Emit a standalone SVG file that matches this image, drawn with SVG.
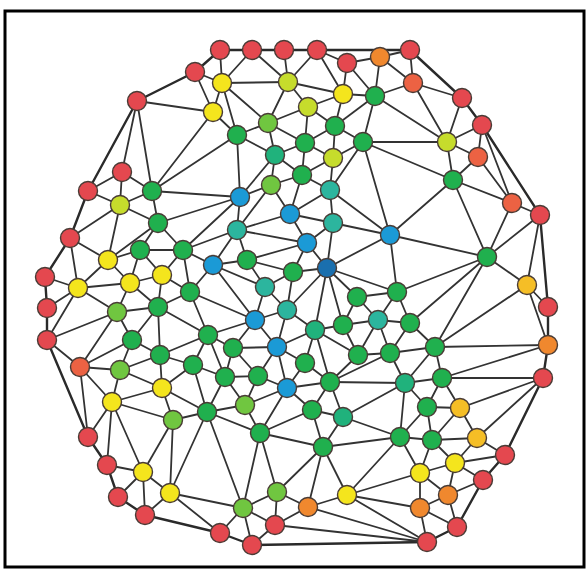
<svg xmlns="http://www.w3.org/2000/svg" width="588" height="572" viewBox="0 0 588 572">
<style>
.e path{stroke:#333;stroke-width:1.8;fill:none;stroke-linecap:round}
.hull{stroke:#2a2a2a;stroke-width:2.4;fill:none;stroke-linejoin:round}
circle{stroke:#4a3c36;stroke-width:1.4}
.r{fill:#e4484f}.or{fill:#ec6243}.o{fill:#f0882e}.yo{fill:#f5be26}.y{fill:#f4e51d}
.yg{fill:#c6dc2c}.lg{fill:#70c640}.g{fill:#20b04e}.tg{fill:#20b27c}.t{fill:#2cb59e}
.b{fill:#1b9ad6}.db{fill:#1a6fae}
</style>
<rect width="588" height="572" fill="#fff"/>
<rect x="5" y="11" width="579" height="556" fill="none" stroke="#000" stroke-width="3"/>
<g id="connectors" class="e">
<polygon class="hull" points="220,50 252,50 284,50 317,50 410,50 462,98 482,125 540,215 548,307 548,345 543,378 505,455 483,480 457,527 427,542 252,545 220,533 145,515 118,497 107,465 88,437 47,340 47,308 45,277 70,238 88,191 137,101 195,72"/>
<path d="M317 50L347 63"/><path d="M347 63L380 57"/><path d="M380 57L410 50"/>
<path d="M220 50L222 83"/><path d="M252 50L222 83"/><path d="M252 50L288 82"/><path d="M284 50L288 82"/><path d="M317 50L288 82"/><path d="M317 50L343 94"/><path d="M347 63L343 94"/><path d="M347 63L375 96"/><path d="M380 57L375 96"/><path d="M380 57L413 83"/><path d="M410 50L413 83"/><path d="M413 83L375 96"/><path d="M413 83L462 98"/><path d="M413 83L447 142"/><path d="M462 98L447 142"/><path d="M482 125L447 142"/><path d="M482 125L478 157"/><path d="M482 125L512 203"/><path d="M478 157L447 142"/><path d="M478 157L453 180"/><path d="M478 157L512 203"/><path d="M512 203L540 215"/><path d="M512 203L453 180"/><path d="M512 203L487 257"/><path d="M540 215L487 257"/><path d="M540 215L527 285"/><path d="M527 285L548 307"/><path d="M527 285L548 345"/><path d="M527 285L487 257"/><path d="M527 285L435 347"/><path d="M548 345L435 347"/><path d="M548 345L442 378"/><path d="M543 378L442 378"/><path d="M543 378L460 408"/><path d="M543 378L477 438"/>
<path d="M222 83L195 72"/><path d="M222 83L213 112"/><path d="M222 83L288 82"/><path d="M222 83L268 123"/><path d="M222 83L237 135"/><path d="M195 72L213 112"/><path d="M137 101L213 112"/><path d="M137 101L122 172"/><path d="M137 101L152 191"/><path d="M88 191L122 172"/><path d="M122 172L120 205"/><path d="M122 172L152 191"/><path d="M88 191L120 205"/><path d="M70 238L120 205"/><path d="M70 238L108 260"/><path d="M70 238L78 288"/><path d="M45 277L78 288"/><path d="M47 308L78 288"/><path d="M47 340L78 288"/><path d="M47 340L117 312"/><path d="M47 340L80 367"/><path d="M88 437L80 367"/><path d="M88 437L112 402"/>
<path d="M288 82L308 107"/><path d="M288 82L268 123"/><path d="M288 82L343 94"/><path d="M343 94L308 107"/><path d="M343 94L335 126"/><path d="M343 94L375 96"/><path d="M375 96L335 126"/><path d="M375 96L363 142"/><path d="M375 96L447 142"/><path d="M308 107L268 123"/><path d="M308 107L335 126"/><path d="M308 107L305 143"/><path d="M268 123L305 143"/><path d="M268 123L275 155"/><path d="M268 123L237 135"/><path d="M237 135L275 155"/><path d="M237 135L240 197"/><path d="M237 135L213 112"/><path d="M237 135L152 191"/><path d="M213 112L152 191"/><path d="M335 126L305 143"/><path d="M335 126L333 158"/><path d="M335 126L363 142"/><path d="M363 142L333 158"/><path d="M363 142L330 190"/><path d="M363 142L447 142"/><path d="M363 142L453 180"/><path d="M363 142L390 235"/><path d="M305 143L275 155"/><path d="M305 143L333 158"/><path d="M305 143L302 175"/><path d="M275 155L302 175"/><path d="M275 155L271 185"/><path d="M275 155L240 197"/><path d="M333 158L302 175"/><path d="M333 158L330 190"/><path d="M302 175L271 185"/><path d="M302 175L330 190"/><path d="M302 175L290 214"/><path d="M271 185L240 197"/><path d="M271 185L290 214"/><path d="M271 185L237 230"/><path d="M330 190L290 214"/><path d="M330 190L333 223"/><path d="M330 190L390 235"/><path d="M240 197L237 230"/><path d="M240 197L152 191"/><path d="M240 197L158 223"/><path d="M240 197L183 250"/><path d="M290 214L333 223"/><path d="M290 214L237 230"/><path d="M290 214L307 243"/><path d="M333 223L307 243"/><path d="M333 223L327 268"/><path d="M333 223L390 235"/><path d="M237 230L213 265"/><path d="M237 230L183 250"/><path d="M237 230L247 260"/><path d="M237 230L307 243"/><path d="M390 235L327 268"/><path d="M390 235L397 292"/><path d="M390 235L453 180"/><path d="M390 235L487 257"/><path d="M307 243L247 260"/><path d="M307 243L327 268"/><path d="M307 243L293 272"/><path d="M247 260L293 272"/><path d="M247 260L213 265"/><path d="M247 260L265 287"/><path d="M327 268L293 272"/><path d="M327 268L357 297"/><path d="M327 268L397 292"/><path d="M327 268L287 310"/><path d="M327 268L315 330"/><path d="M327 268L343 325"/><path d="M293 272L265 287"/><path d="M293 272L287 310"/><path d="M265 287L287 310"/><path d="M265 287L255 320"/><path d="M265 287L213 265"/><path d="M213 265L255 320"/><path d="M213 265L190 292"/><path d="M213 265L183 250"/><path d="M447 142L453 180"/><path d="M453 180L487 257"/>
<path d="M287 310L255 320"/><path d="M287 310L315 330"/><path d="M287 310L277 347"/><path d="M255 320L277 347"/><path d="M255 320L233 348"/><path d="M255 320L208 335"/><path d="M255 320L190 292"/><path d="M315 330L277 347"/><path d="M315 330L305 363"/><path d="M315 330L343 325"/><path d="M315 330L330 382"/><path d="M315 330L358 355"/><path d="M343 325L357 297"/><path d="M343 325L378 320"/><path d="M343 325L358 355"/><path d="M357 297L378 320"/><path d="M357 297L397 292"/><path d="M397 292L378 320"/><path d="M397 292L410 323"/><path d="M397 292L487 257"/><path d="M378 320L410 323"/><path d="M378 320L358 355"/><path d="M378 320L390 353"/><path d="M410 323L390 353"/><path d="M410 323L435 347"/><path d="M410 323L487 257"/><path d="M435 347L487 257"/><path d="M358 355L390 353"/><path d="M358 355L330 382"/><path d="M390 353L435 347"/><path d="M390 353L405 383"/><path d="M390 353L330 382"/><path d="M435 347L405 383"/><path d="M435 347L442 378"/><path d="M405 383L442 378"/><path d="M405 383L330 382"/><path d="M405 383L343 417"/><path d="M405 383L400 437"/><path d="M405 383L427 407"/><path d="M442 378L427 407"/><path d="M442 378L460 408"/>
<path d="M330 382L305 363"/><path d="M330 382L287 388"/><path d="M330 382L312 410"/><path d="M330 382L343 417"/><path d="M305 363L277 347"/><path d="M305 363L287 388"/><path d="M277 347L233 348"/><path d="M277 347L258 376"/><path d="M277 347L287 388"/><path d="M233 348L208 335"/><path d="M233 348L225 377"/><path d="M233 348L258 376"/><path d="M225 377L258 376"/><path d="M225 377L193 365"/><path d="M225 377L208 335"/><path d="M225 377L245 405"/><path d="M225 377L207 412"/><path d="M258 376L287 388"/><path d="M258 376L245 405"/><path d="M287 388L245 405"/><path d="M287 388L260 433"/><path d="M287 388L312 410"/><path d="M245 405L260 433"/><path d="M245 405L207 412"/><path d="M312 410L260 433"/><path d="M312 410L343 417"/><path d="M312 410L323 447"/><path d="M343 417L323 447"/><path d="M343 417L400 437"/><path d="M260 433L323 447"/><path d="M260 433L243 508"/><path d="M260 433L277 492"/><path d="M260 433L207 412"/><path d="M323 447L277 492"/><path d="M323 447L308 507"/><path d="M323 447L347 495"/><path d="M323 447L400 437"/>
<path d="M207 412L193 365"/><path d="M207 412L162 388"/><path d="M207 412L173 420"/><path d="M207 412L170 493"/><path d="M207 412L243 508"/><path d="M162 388L112 402"/><path d="M162 388L120 370"/><path d="M162 388L160 355"/><path d="M162 388L193 365"/><path d="M162 388L173 420"/><path d="M173 420L112 402"/><path d="M173 420L143 472"/><path d="M173 420L170 493"/><path d="M112 402L143 472"/><path d="M112 402L107 465"/><path d="M112 402L80 367"/><path d="M112 402L120 370"/><path d="M143 472L107 465"/><path d="M143 472L118 497"/><path d="M143 472L145 515"/><path d="M143 472L170 493"/><path d="M170 493L145 515"/><path d="M170 493L220 533"/><path d="M170 493L243 508"/><path d="M220 533L243 508"/><path d="M252 545L243 508"/><path d="M275 525L243 508"/><path d="M275 525L277 492"/><path d="M243 508L277 492"/><path d="M308 507L277 492"/><path d="M308 507L275 525"/><path d="M347 495L308 507"/><path d="M400 437L347 495"/><path d="M420 473L347 495"/><path d="M420 508L347 495"/><path d="M427 542L347 495"/><path d="M427 542L308 507"/><path d="M427 542L275 525"/><path d="M427 542L420 508"/><path d="M275 525L252 545"/>
<path d="M427 407L460 408"/><path d="M427 407L432 440"/><path d="M427 407L400 437"/><path d="M432 440L460 408"/><path d="M432 440L477 438"/><path d="M432 440L455 463"/><path d="M432 440L420 473"/><path d="M432 440L400 437"/><path d="M460 408L477 438"/><path d="M477 438L455 463"/><path d="M477 438L505 455"/><path d="M455 463L505 455"/><path d="M455 463L483 480"/><path d="M455 463L448 495"/><path d="M455 463L420 473"/><path d="M448 495L483 480"/><path d="M448 495L457 527"/><path d="M448 495L420 508"/><path d="M448 495L420 473"/><path d="M420 508L457 527"/><path d="M420 508L420 473"/><path d="M400 437L420 473"/>
<path d="M80 367L120 370"/><path d="M80 367L117 312"/><path d="M80 367L132 340"/><path d="M117 312L78 288"/><path d="M117 312L130 283"/><path d="M117 312L158 307"/><path d="M117 312L132 340"/><path d="M132 340L120 370"/><path d="M132 340L160 355"/><path d="M132 340L158 307"/><path d="M160 355L120 370"/><path d="M160 355L158 307"/><path d="M160 355L208 335"/><path d="M160 355L193 365"/><path d="M193 365L208 335"/><path d="M208 335L190 292"/><path d="M208 335L158 307"/><path d="M158 307L130 283"/><path d="M158 307L162 275"/><path d="M158 307L190 292"/><path d="M130 283L78 288"/><path d="M130 283L108 260"/><path d="M130 283L140 250"/><path d="M130 283L162 275"/><path d="M162 275L140 250"/><path d="M162 275L183 250"/><path d="M162 275L190 292"/><path d="M140 250L108 260"/><path d="M140 250L158 223"/><path d="M140 250L183 250"/><path d="M183 250L158 223"/><path d="M183 250L190 292"/><path d="M108 260L78 288"/><path d="M108 260L120 205"/><path d="M108 260L158 223"/><path d="M120 205L158 223"/><path d="M120 205L152 191"/><path d="M152 191L158 223"/>
</g>
<g id="nodes">
<g id="n1"><circle class="r" cx="220" cy="50" r="9.5"/></g>
<g id="n2"><circle class="r" cx="252" cy="50" r="9.5"/></g>
<g id="n3"><circle class="r" cx="284" cy="50" r="9.5"/></g>
<g id="n4"><circle class="r" cx="317" cy="50" r="9.5"/></g>
<g id="n5"><circle class="r" cx="347" cy="63" r="9.5"/></g>
<g id="n6"><circle class="o" cx="380" cy="57" r="9.5"/></g>
<g id="n7"><circle class="r" cx="410" cy="50" r="9.5"/></g>
<g id="n8"><circle class="or" cx="413" cy="83" r="9.5"/></g>
<g id="n9"><circle class="r" cx="462" cy="98" r="9.5"/></g>
<g id="n10"><circle class="r" cx="482" cy="125" r="9.5"/></g>
<g id="n11"><circle class="or" cx="478" cy="157" r="9.5"/></g>
<g id="n12"><circle class="or" cx="512" cy="203" r="9.5"/></g>
<g id="n13"><circle class="r" cx="540" cy="215" r="9.5"/></g>
<g id="n14"><circle class="yo" cx="527" cy="285" r="9.5"/></g>
<g id="n15"><circle class="r" cx="548" cy="307" r="9.5"/></g>
<g id="n16"><circle class="o" cx="548" cy="345" r="9.5"/></g>
<g id="n17"><circle class="r" cx="543" cy="378" r="9.5"/></g>
<g id="n18"><circle class="r" cx="505" cy="455" r="9.5"/></g>
<g id="n19"><circle class="r" cx="483" cy="480" r="9.5"/></g>
<g id="n20"><circle class="r" cx="457" cy="527" r="9.5"/></g>
<g id="n21"><circle class="r" cx="427" cy="542" r="9.5"/></g>
<g id="n22"><circle class="o" cx="420" cy="508" r="9.5"/></g>
<g id="n23"><circle class="o" cx="448" cy="495" r="9.5"/></g>
<g id="n24"><circle class="y" cx="455" cy="463" r="9.5"/></g>
<g id="n25"><circle class="y" cx="420" cy="473" r="9.5"/></g>
<g id="n26"><circle class="yo" cx="477" cy="438" r="9.5"/></g>
<g id="n27"><circle class="yo" cx="460" cy="408" r="9.5"/></g>
<g id="n28"><circle class="g" cx="427" cy="407" r="9.5"/></g>
<g id="n29"><circle class="g" cx="432" cy="440" r="9.5"/></g>
<g id="n30"><circle class="g" cx="400" cy="437" r="9.5"/></g>
<g id="n31"><circle class="y" cx="347" cy="495" r="9.5"/></g>
<g id="n32"><circle class="o" cx="308" cy="507" r="9.5"/></g>
<g id="n33"><circle class="r" cx="275" cy="525" r="9.5"/></g>
<g id="n34"><circle class="r" cx="252" cy="545" r="9.5"/></g>
<g id="n35"><circle class="r" cx="220" cy="533" r="9.5"/></g>
<g id="n36"><circle class="lg" cx="243" cy="508" r="9.5"/></g>
<g id="n37"><circle class="lg" cx="277" cy="492" r="9.5"/></g>
<g id="n38"><circle class="r" cx="145" cy="515" r="9.5"/></g>
<g id="n39"><circle class="r" cx="118" cy="497" r="9.5"/></g>
<g id="n40"><circle class="r" cx="107" cy="465" r="9.5"/></g>
<g id="n41"><circle class="r" cx="88" cy="437" r="9.5"/></g>
<g id="n42"><circle class="y" cx="143" cy="472" r="9.5"/></g>
<g id="n43"><circle class="y" cx="170" cy="493" r="9.5"/></g>
<g id="n44"><circle class="y" cx="112" cy="402" r="9.5"/></g>
<g id="n45"><circle class="y" cx="162" cy="388" r="9.5"/></g>
<g id="n46"><circle class="lg" cx="173" cy="420" r="9.5"/></g>
<g id="n47"><circle class="g" cx="207" cy="412" r="9.5"/></g>
<g id="n48"><circle class="or" cx="80" cy="367" r="9.5"/></g>
<g id="n49"><circle class="r" cx="47" cy="340" r="9.5"/></g>
<g id="n50"><circle class="r" cx="47" cy="308" r="9.5"/></g>
<g id="n51"><circle class="r" cx="45" cy="277" r="9.5"/></g>
<g id="n52"><circle class="r" cx="70" cy="238" r="9.5"/></g>
<g id="n53"><circle class="r" cx="88" cy="191" r="9.5"/></g>
<g id="n54"><circle class="r" cx="122" cy="172" r="9.5"/></g>
<g id="n55"><circle class="r" cx="137" cy="101" r="9.5"/></g>
<g id="n56"><circle class="r" cx="195" cy="72" r="9.5"/></g>
<g id="n57"><circle class="yg" cx="120" cy="205" r="9.5"/></g>
<g id="n58"><circle class="g" cx="152" cy="191" r="9.5"/></g>
<g id="n59"><circle class="g" cx="158" cy="223" r="9.5"/></g>
<g id="n60"><circle class="y" cx="108" cy="260" r="9.5"/></g>
<g id="n61"><circle class="y" cx="78" cy="288" r="9.5"/></g>
<g id="n62"><circle class="y" cx="130" cy="283" r="9.5"/></g>
<g id="n63"><circle class="y" cx="162" cy="275" r="9.5"/></g>
<g id="n64"><circle class="g" cx="140" cy="250" r="9.5"/></g>
<g id="n65"><circle class="g" cx="183" cy="250" r="9.5"/></g>
<g id="n66"><circle class="lg" cx="117" cy="312" r="9.5"/></g>
<g id="n67"><circle class="g" cx="158" cy="307" r="9.5"/></g>
<g id="n68"><circle class="g" cx="190" cy="292" r="9.5"/></g>
<g id="n69"><circle class="g" cx="132" cy="340" r="9.5"/></g>
<g id="n70"><circle class="g" cx="160" cy="355" r="9.5"/></g>
<g id="n71"><circle class="lg" cx="120" cy="370" r="9.5"/></g>
<g id="n72"><circle class="g" cx="193" cy="365" r="9.5"/></g>
<g id="n73"><circle class="g" cx="208" cy="335" r="9.5"/></g>
<g id="n74"><circle class="b" cx="213" cy="265" r="9.5"/></g>
<g id="n75"><circle class="y" cx="222" cy="83" r="9.5"/></g>
<g id="n76"><circle class="yg" cx="288" cy="82" r="9.5"/></g>
<g id="n77"><circle class="y" cx="343" cy="94" r="9.5"/></g>
<g id="n78"><circle class="g" cx="375" cy="96" r="9.5"/></g>
<g id="n79"><circle class="y" cx="213" cy="112" r="9.5"/></g>
<g id="n80"><circle class="yg" cx="308" cy="107" r="9.5"/></g>
<g id="n81"><circle class="lg" cx="268" cy="123" r="9.5"/></g>
<g id="n82"><circle class="g" cx="237" cy="135" r="9.5"/></g>
<g id="n83"><circle class="g" cx="335" cy="126" r="9.5"/></g>
<g id="n84"><circle class="g" cx="363" cy="142" r="9.5"/></g>
<g id="n85"><circle class="g" cx="305" cy="143" r="9.5"/></g>
<g id="n86"><circle class="tg" cx="275" cy="155" r="9.5"/></g>
<g id="n87"><circle class="yg" cx="333" cy="158" r="9.5"/></g>
<g id="n88"><circle class="g" cx="302" cy="175" r="9.5"/></g>
<g id="n89"><circle class="lg" cx="271" cy="185" r="9.5"/></g>
<g id="n90"><circle class="t" cx="330" cy="190" r="9.5"/></g>
<g id="n91"><circle class="b" cx="240" cy="197" r="9.5"/></g>
<g id="n92"><circle class="b" cx="290" cy="214" r="9.5"/></g>
<g id="n93"><circle class="t" cx="333" cy="223" r="9.5"/></g>
<g id="n94"><circle class="t" cx="237" cy="230" r="9.5"/></g>
<g id="n95"><circle class="b" cx="390" cy="235" r="9.5"/></g>
<g id="n96"><circle class="b" cx="307" cy="243" r="9.5"/></g>
<g id="n97"><circle class="g" cx="247" cy="260" r="9.5"/></g>
<g id="n98"><circle class="db" cx="327" cy="268" r="9.5"/></g>
<g id="n99"><circle class="g" cx="293" cy="272" r="9.5"/></g>
<g id="n100"><circle class="t" cx="265" cy="287" r="9.5"/></g>
<g id="n101"><circle class="g" cx="357" cy="297" r="9.5"/></g>
<g id="n102"><circle class="g" cx="397" cy="292" r="9.5"/></g>
<g id="n103"><circle class="t" cx="287" cy="310" r="9.5"/></g>
<g id="n104"><circle class="b" cx="255" cy="320" r="9.5"/></g>
<g id="n105"><circle class="tg" cx="315" cy="330" r="9.5"/></g>
<g id="n106"><circle class="g" cx="343" cy="325" r="9.5"/></g>
<g id="n107"><circle class="t" cx="378" cy="320" r="9.5"/></g>
<g id="n108"><circle class="g" cx="410" cy="323" r="9.5"/></g>
<g id="n109"><circle class="g" cx="233" cy="348" r="9.5"/></g>
<g id="n110"><circle class="b" cx="277" cy="347" r="9.5"/></g>
<g id="n111"><circle class="g" cx="358" cy="355" r="9.5"/></g>
<g id="n112"><circle class="g" cx="390" cy="353" r="9.5"/></g>
<g id="n113"><circle class="g" cx="435" cy="347" r="9.5"/></g>
<g id="n114"><circle class="g" cx="305" cy="363" r="9.5"/></g>
<g id="n115"><circle class="g" cx="225" cy="377" r="9.5"/></g>
<g id="n116"><circle class="g" cx="258" cy="376" r="9.5"/></g>
<g id="n117"><circle class="g" cx="330" cy="382" r="9.5"/></g>
<g id="n118"><circle class="b" cx="287" cy="388" r="9.5"/></g>
<g id="n119"><circle class="tg" cx="405" cy="383" r="9.5"/></g>
<g id="n120"><circle class="g" cx="442" cy="378" r="9.5"/></g>
<g id="n121"><circle class="lg" cx="245" cy="405" r="9.5"/></g>
<g id="n122"><circle class="g" cx="312" cy="410" r="9.5"/></g>
<g id="n123"><circle class="tg" cx="343" cy="417" r="9.5"/></g>
<g id="n124"><circle class="g" cx="260" cy="433" r="9.5"/></g>
<g id="n125"><circle class="g" cx="323" cy="447" r="9.5"/></g>
<g id="n126"><circle class="yg" cx="447" cy="142" r="9.5"/></g>
<g id="n127"><circle class="g" cx="453" cy="180" r="9.5"/></g>
<g id="n128"><circle class="g" cx="487" cy="257" r="9.5"/></g>
</g>
</svg>
